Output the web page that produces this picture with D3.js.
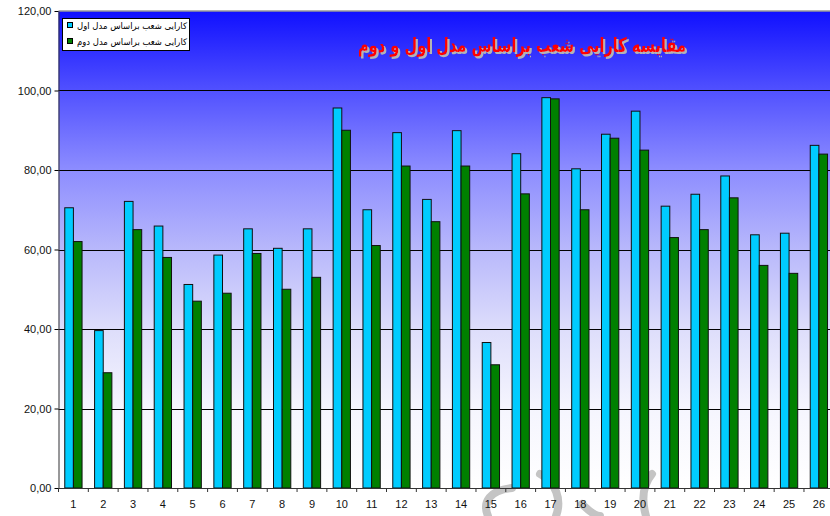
<!DOCTYPE html>
<html>
<head>
<meta charset="utf-8">
<script src="https://cdn.jsdelivr.net/npm/d3@7"></script>
<style>
  body { margin: 0; background: #fff; }
  svg { display: block; font-family: "Liberation Sans", Arial, sans-serif; }
</style>
</head>
<body>
<svg width="830" height="516"></svg>
<script>
// data
var branches = d3.range(1, 27).map(String);
var model1 = [70.5, 39.6, 72.1, 65.9, 51.2, 58.6, 65.2, 60.3, 65.2, 95.6, 70.0, 89.4, 72.6,
              89.9, 36.6, 84.1, 98.2, 80.3, 89.0, 94.8, 70.9, 73.9, 78.5, 63.7, 64.1, 86.2];
var model2 = [62, 29, 65, 58, 47, 49, 59, 50, 53, 90, 61, 81, 67,
              81, 31, 74, 97.9, 70, 88, 85, 63, 65, 73, 56, 54, 84];
var seriesNames = ["کارایی شعب براساس مدل اول", "کارایی شعب براساس مدل دوم"];
var seriesColors = ["#00ccff", "#008000"];
var yTicks = [0, 20, 40, 60, 80, 100, 120];
var title = "مقایسه کارایی شعب براساس مدل اول و دوم";

var svg = d3.select("svg");
var plotL = 58.5, plotR = 833.8, plotT = 11, plotB = 488;

var x = d3.scaleBand().domain(branches).range([plotL, plotR]);
var y = d3.scaleLinear().domain([0, 120]).range([plotB, plotT]);
var barW = x.bandwidth() * 0.29;

// background gradient + title shadow
var defs = svg.append("defs");
var grad = defs.append("linearGradient").attr("id", "bg")
  .attr("x1", 0).attr("y1", 0).attr("x2", 0).attr("y2", 1);
[[0, "#1010ff"], [0.17, "#5252ff"], [0.33, "#8c8cff"], [0.5, "#b8b8fb"],
 [0.67, "#dedefb"], [0.83, "#f5f5fe"], [1, "#ffffff"]].forEach(function (s) {
  grad.append("stop").attr("offset", s[0]).attr("stop-color", s[1]);
});
defs.append("filter").attr("id", "shadow")
  .attr("x", "-5%").attr("y", "-30%").attr("width", "110%").attr("height", "160%")
  .append("feDropShadow")
  .attr("dx", 2).attr("dy", 2).attr("stdDeviation", 0.3)
  .attr("flood-color", "#b4b4b4").attr("flood-opacity", 1);

svg.append("rect")
  .attr("x", plotL).attr("y", plotT)
  .attr("width", plotR - plotL).attr("height", plotB - plotT)
  .attr("fill", "url(#bg)");
svg.append("line")
  .attr("x1", plotL).attr("x2", plotR).attr("y1", plotT).attr("y2", plotT)
  .attr("stroke", "#999").attr("stroke-width", 1.5);

// gridlines
svg.append("g").selectAll("line")
  .data(yTicks.filter(function (d) { return d > 0 && d < 120; }))
  .enter().append("line")
  .attr("x1", plotL).attr("x2", plotR)
  .attr("y1", function (d) { return Math.round(y(d)) + 0.5; })
  .attr("y2", function (d) { return Math.round(y(d)) + 0.5; })
  .attr("stroke", "#000").attr("stroke-width", 1);

// watermark swirl
svg.append("path")
  .attr("d", "M 488 516 C 482 502, 490 490, 512 488 M 540 474 C 556 482, 562 500, 556 516 M 582 504 C 590 512, 596 516, 600 516 M 652 474 C 642 486, 642 502, 646 516")
  .attr("fill", "none").attr("stroke", "#c4c4c4").attr("stroke-width", 8)
  .attr("stroke-linecap", "round");

// bars
var groups = svg.append("g").selectAll("g")
  .data(branches).enter().append("g")
  .attr("transform", function (d) {
    return "translate(" + (x(d) + x.bandwidth() / 2 - barW) + ",0)";
  });
groups.append("rect")
  .attr("x", 0)
  .attr("y", function (d, i) { return y(model1[i]); })
  .attr("width", barW)
  .attr("height", function (d, i) { return plotB - y(model1[i]); })
  .attr("fill", seriesColors[0]).attr("stroke", "#111").attr("stroke-width", 1);
groups.append("rect")
  .attr("x", barW)
  .attr("y", function (d, i) { return y(model2[i]); })
  .attr("width", barW)
  .attr("height", function (d, i) { return plotB - y(model2[i]); })
  .attr("fill", seriesColors[1]).attr("stroke", "#111").attr("stroke-width", 1);

// axes
var yAxis = svg.append("g")
  .attr("transform", "translate(" + plotL + ",0)")
  .call(d3.axisLeft(y).tickValues(yTicks).tickSize(4).tickSizeOuter(0)
    .tickFormat(function (d) { return d3.format(".2f")(d).replace(".", ","); }));
yAxis.selectAll("text").attr("font-size", 11).attr("fill", "#111")
  .attr("font-family", "Liberation Sans, Arial, sans-serif");
yAxis.select(".domain").attr("stroke", "#333");

var xAxis = svg.append("g")
  .attr("transform", "translate(0," + plotB + ")")
  .call(d3.axisBottom(x).tickSize(0).tickSizeOuter(0).tickPadding(12));
xAxis.selectAll("text").attr("font-size", 11).attr("fill", "#111")
  .attr("font-family", "Liberation Sans, Arial, sans-serif");
xAxis.select(".domain").attr("stroke", "#333");
xAxis.selectAll(".sep").data(branches).enter().append("line")
  .attr("class", "sep")
  .attr("x1", function (d) { return x(d); }).attr("x2", function (d) { return x(d); })
  .attr("y1", 0).attr("y2", 4).attr("stroke", "#333");

// legend
var lg = svg.append("g");
lg.append("rect").attr("x", 62.5).attr("y", 18.5).attr("width", 127).attr("height", 32)
  .attr("fill", "#fff").attr("stroke", "#000");
seriesNames.forEach(function (name, i) {
  lg.append("rect").attr("x", 67.5).attr("y", 22.5 + i * 16).attr("width", 5).attr("height", 5)
    .attr("fill", seriesColors[i]).attr("stroke", "#000");
  lg.append("text").attr("x", 187).attr("y", 29 + i * 16)
    .attr("text-anchor", "end").attr("font-size", 9)
    .attr("font-family", "DejaVu Sans, sans-serif")
    .attr("textLength", 110).attr("lengthAdjust", "spacingAndGlyphs")
    .text(name);
});

// title
svg.append("text")
  .attr("x", 522).attr("y", 52)
  .attr("text-anchor", "middle").attr("font-size", 20).attr("font-weight", "bold")
  .attr("font-family", "DejaVu Sans, sans-serif")
  .attr("textLength", 328).attr("lengthAdjust", "spacingAndGlyphs")
  .attr("fill", "#ff0000").attr("filter", "url(#shadow)")
  .text(title);
</script>
</body>
</html>
